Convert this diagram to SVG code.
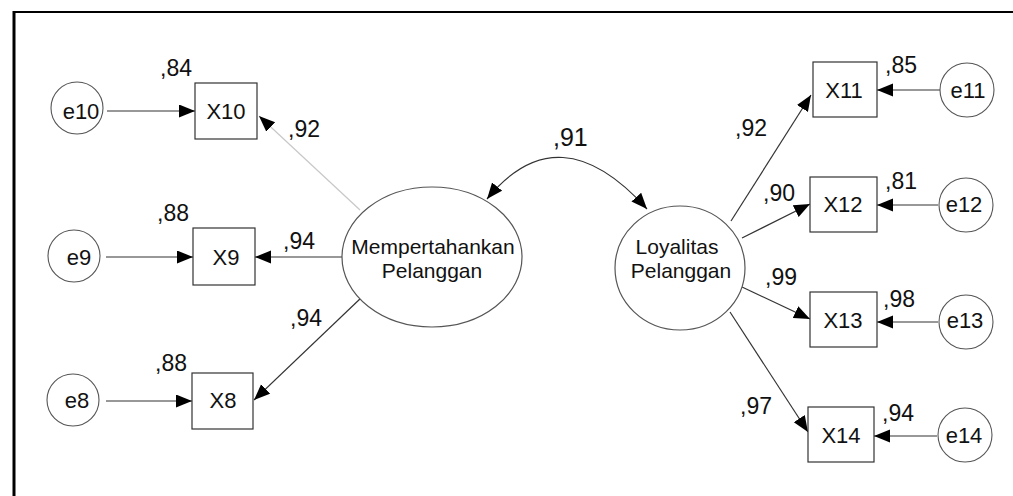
<svg xmlns="http://www.w3.org/2000/svg" width="1013" height="496" viewBox="0 0 1013 496">
  <style>
    text { font-family: "Liberation Sans", Arial, sans-serif; fill: #111; }
    .lbl { font-size: 22px; text-anchor: middle; }
    .lat-txt { font-size: 21px; text-anchor: middle; }
    .num { font-size: 23px; }
    .box { fill: #fff; stroke: #333; stroke-width: 1.2; }
    .err { fill: #fff; stroke: #555; stroke-width: 1.1; }
    .lat { fill: #fff; stroke: #555; stroke-width: 1.2; }
    .edge { fill: none; stroke: #333; stroke-width: 1.2; marker-end: url(#arrow); }
    .faint { stroke: #c8c8c8; }
  </style>
  <defs>
    <marker id="arrow" markerUnits="userSpaceOnUse" markerWidth="18" markerHeight="14" refX="16" refY="6.5" orient="auto-start-reverse">
      <path d="M0,0 L16,6.5 L0,13 Z" fill="#000"/>
    </marker>
  </defs>

  <rect width="1013" height="496" fill="#fff"/>
  <!-- frame -->
  <line x1="13" y1="12" x2="1013" y2="12" stroke="#000" stroke-width="2"/>
  <line x1="14" y1="11" x2="14" y2="496" stroke="#000" stroke-width="3"/>

  <!-- connectors -->
  <g id="connectors">
    <!-- error terms to indicators, left -->
    <line class="edge" x1="107" y1="111" x2="195" y2="111"/>
    <line class="edge" x1="106" y1="257" x2="193" y2="257"/>
    <line class="edge" x1="106" y1="401" x2="192" y2="401"/>
    <!-- Mempertahankan Pelanggan loadings -->
    <line class="edge faint" x1="360" y1="210" x2="259" y2="116"/>
    <line class="edge" x1="342" y1="257" x2="255" y2="257"/>
    <line class="edge" x1="362" y1="297" x2="254" y2="400"/>
    <!-- covariance -->
    <path class="edge" d="M487,199 Q559,111 647,209" marker-start="url(#arrow)"/>
    <!-- Loyalitas Pelanggan loadings -->
    <line class="edge" x1="731" y1="221" x2="811" y2="95"/>
    <line class="edge" x1="742" y1="238" x2="810" y2="204"/>
    <line class="edge" x1="742" y1="287" x2="810" y2="319"/>
    <line class="edge" x1="730" y1="312" x2="808" y2="432"/>
    <!-- error terms to indicators, right -->
    <line class="edge" x1="940" y1="90" x2="877" y2="90"/>
    <line class="edge" x1="938" y1="205" x2="877" y2="205"/>
    <line class="edge" x1="938" y1="322" x2="877" y2="322"/>
    <line class="edge" x1="937" y1="436" x2="874" y2="436"/>
  </g>

  <!-- left error terms -->
  <g id="e10"><circle class="err" cx="77" cy="108" r="26"/><text class="lbl" x="81" y="119">e10</text></g>
  <g id="e9"><circle class="err" cx="74" cy="256" r="26"/><text class="lbl" x="79" y="265">e9</text></g>
  <g id="e8"><circle class="err" cx="73" cy="400" r="26"/><text class="lbl" x="77" y="408">e8</text></g>

  <!-- left indicators -->
  <g id="X10"><rect class="box" x="195" y="83" width="62" height="56"/><text class="lbl" x="226" y="119">X10</text></g>
  <g id="X9"><rect class="box" x="193" y="228" width="62" height="57"/><text class="lbl" x="226" y="265">X9</text></g>
  <g id="X8"><rect class="box" x="192" y="373" width="61" height="56"/><text class="lbl" x="223" y="408">X8</text></g>

  <!-- latent variables -->
  <g id="MempertahankanPelanggan">
    <ellipse class="lat" cx="432" cy="257" rx="90" ry="70"/>
    <text class="lat-txt" x="433" y="254">Mempertahankan</text>
    <text class="lat-txt" x="432" y="278">Pelanggan</text>
  </g>
  <g id="LoyalitasPelanggan">
    <ellipse class="lat" cx="680" cy="268" rx="65" ry="62"/>
    <text class="lat-txt" x="677" y="254">Loyalitas</text>
    <text class="lat-txt" x="681" y="278">Pelanggan</text>
  </g>

  <!-- right indicators -->
  <g id="X11"><rect class="box" x="813" y="62" width="64" height="55"/><text class="lbl" x="844" y="98">X11</text></g>
  <g id="X12"><rect class="box" x="810" y="177" width="67" height="55"/><text class="lbl" x="843" y="212">X12</text></g>
  <g id="X13"><rect class="box" x="810" y="292" width="67" height="55"/><text class="lbl" x="843" y="328">X13</text></g>
  <g id="X14"><rect class="box" x="808" y="407" width="66" height="55"/><text class="lbl" x="841" y="443">X14</text></g>

  <!-- right error terms -->
  <g id="e11"><circle class="err" cx="967" cy="90" r="27"/><text class="lbl" x="968" y="98">e11</text></g>
  <g id="e12"><circle class="err" cx="966" cy="205" r="27"/><text class="lbl" x="964" y="212">e12</text></g>
  <g id="e13"><circle class="err" cx="966" cy="322" r="27"/><text class="lbl" x="965" y="328">e13</text></g>
  <g id="e14"><circle class="err" cx="965" cy="435" r="27"/><text class="lbl" x="964" y="443">e14</text></g>

  <!-- estimates -->
  <g id="estimates">
    <text class="num" x="160" y="76">,84</text>
    <text class="num" x="288" y="137">,92</text>
    <text class="num" x="157" y="221">,88</text>
    <text class="num" x="283" y="249">,94</text>
    <text class="num" x="290" y="326">,94</text>
    <text class="num" x="155" y="371">,88</text>
    <text class="num" x="553" y="146" style="font-size:25px">,91</text>
    <text class="num" x="735" y="136">,92</text>
    <text class="num" x="763" y="201">,90</text>
    <text class="num" x="765" y="285">,99</text>
    <text class="num" x="740" y="414">,97</text>
    <text class="num" x="885" y="73">,85</text>
    <text class="num" x="885" y="189">,81</text>
    <text class="num" x="883" y="307">,98</text>
    <text class="num" x="882" y="421">,94</text>
  </g>
</svg>
